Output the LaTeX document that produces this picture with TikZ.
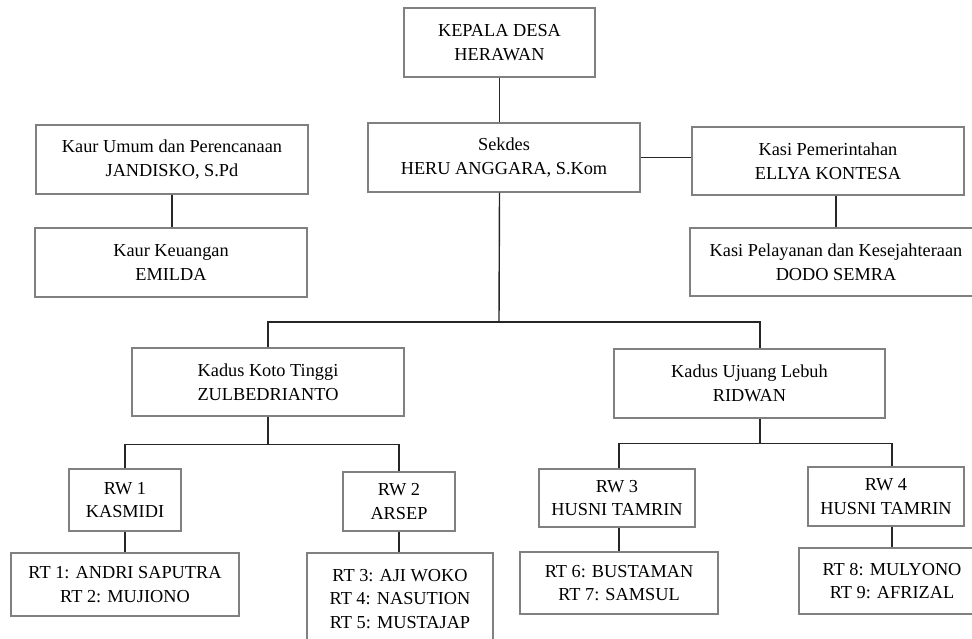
\documentclass[tikz,border=0pt]{standalone}
\usepackage{fontspec}
\setmainfont{Liberation Serif}

\begin{document}
\begin{tikzpicture}[x=1pt,y=-1pt,
    unit/.style={draw=black!50,line width=1.1pt,align=center,inner sep=0pt,
        font={\fontsize{18.3}{23.5}\selectfont}},
    link/.style={draw=black!85,line width=1.4pt}]
\useasboundingbox (0,0) rectangle (972,638);
\clip (0,0) rectangle (972,638);

% pimpinan desa
\node[unit,minimum width=191,minimum height=69] (kades) at (499.5,42.5) {KEPALA DESA\\HERAWAN};
\node[unit,minimum width=272,minimum height=69] (sekdes) at (504,157.5) {Sekdes\\HERU ANGGARA, S.Kom};
\node[unit,minimum width=272,minimum height=69] (kaurumum) at (172,159.5) {Kaur Umum dan Perencanaan\\JANDISKO, S.Pd};
\node[unit,minimum width=272,minimum height=69] (kaurkeu) at (171,262.5) {Kaur Keuangan\\EMILDA};
\node[unit,minimum width=272,minimum height=68] (kasipem) at (828,161) {Kasi Pemerintahan\\ELLYA KONTESA};
\node[unit,minimum width=292,minimum height=68] (kasiyan) at (836,262) {Kasi Pelayanan dan Kesejahteraan\\DODO SEMRA};

% kadus
\node[unit,minimum width=272,minimum height=68] (kadus1) at (268,382) {Kadus Koto Tinggi\\ZULBEDRIANTO};
\node[unit,minimum width=271,minimum height=69] (kadus2) at (749.5,383.5) {Kadus Ujuang Lebuh\\RIDWAN};

% rw
\node[unit,minimum width=112,minimum height=62] (rw1) at (125,500) {RW 1\\KASMIDI};
\node[unit,minimum width=112,minimum height=59] (rw2) at (399,501.5) {RW 2\\ARSEP};
\node[unit,minimum width=156,minimum height=58] (rw3) at (617,498) {RW 3\\HUSNI TAMRIN};
\node[unit,minimum width=156,minimum height=59] (rw4) at (886,496.5) {RW 4\\HUSNI TAMRIN};

% rt
\node[unit,minimum width=228,minimum height=63] (rt1) at (125,584.5) {RT 1: ANDRI SAPUTRA\\RT 2: MUJIONO};
\node[unit,minimum width=186,minimum height=92] (rt3) at (400,599) {RT 3: AJI WOKO\\RT 4: NASUTION\\RT 5: MUSTAJAP};
\node[unit,minimum width=198,minimum height=62] (rt6) at (619,583) {RT 6: BUSTAMAN\\RT 7: SAMSUL};
\node[unit,minimum width=186,minimum height=66] (rt8) at (892,581) {RT 8: MULYONO\\RT 9: AFRIZAL};

% garis
\draw[link] (kades.south) -- (kades.south |- sekdes.north);
\draw[link] (sekdes.east) -- (sekdes.east -| kasipem.west);
\draw[link] (kaurumum.south) -- (kaurumum.south |- kaurkeu.north);
\draw[link] (kasiyan.north) -- (kasiyan.north |- kasipem.south);
\coordinate (bus) at (499,322);
\draw[link] (kades.south |- sekdes.south) -- (bus);
\draw[link] (kadus1.north) |- (bus) -| ([xshift=10.5pt]kadus2.north);

\draw[link] (kadus1.south) -- ++(0,28) coordinate (bus1);
\draw[link] (rw1.north) |- (bus1) -| (rw2.north);
\draw[link] ([xshift=10.5pt]kadus2.south) -- ++(0,25) coordinate (bus2);
\draw[link] ([xshift=2pt]rw3.north) |- (bus2) -| ([xshift=6pt]rw4.north);

\draw[link] (rw1.south) -- (rw1.south |- rt1.north);
\draw[link] (rw2.south) -- (rw2.south |- rt3.north);
\draw[link] (rt6.north) -- (rt6.north |- rw3.south);
\draw[link] (rt8.north) -- (rt8.north |- rw4.south);
\end{tikzpicture}
\end{document}
